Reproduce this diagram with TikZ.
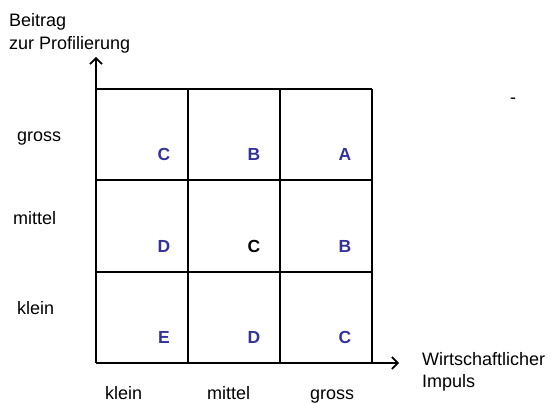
\documentclass[tikz,border=0pt]{standalone}
\usepackage{fontspec}
\setmainfont{Liberation Sans}
\usetikzlibrary{arrows.meta}
\definecolor{gradeblue}{RGB}{51,51,153}

\begin{document}
\begin{tikzpicture}[x=1pt,y=-1pt]

    % Define styles
    \tikzset{
        grid line/.style={line width=1.6pt, draw=black},
        axis arrow/.style={line width=1.6pt, -{Straight Barb[length=6pt,width=12pt]}},
        axis label/.style={font=\fontsize{18}{22.5}\selectfont, anchor=base west, align=left, inner sep=0pt},
        grade/.style={font=\fontsize{17.5}{20}\selectfont\bfseries, text=gradeblue, inner sep=0pt}
    }

    \useasboundingbox (0,0) rectangle (552,403);

    % Define coordinates for the axes
    \coordinate (origin) at (96,363);
    \coordinate (y-tip) at (96,57);
    \coordinate (x-tip) at (399,363);

    % Draw the 3x3 grid
    \foreach \x in {96,188,280,372} {
        \draw[grid line] (\x,89) -- (\x,363);
    }
    \foreach \y in {89,180,272,363} {
        \draw[grid line] (96,\y) -- (372,\y);
    }

    % Draw the axes
    \draw[axis arrow] (origin) -- (y-tip);
    \draw[axis arrow] (origin) -- (x-tip);

    % Grades in the cells
    \foreach \x/\y/\g/\name in {164/154/C/cg, 254/154/B/mg, 345/154/A/gg,
                                164/246/D/cm, 345/246/B/gm,
                                164/337/E/ck, 254/337/D/mk, 345/337/C/gk} {
        \node[grade] (grade-\name) at (\x,\y) {\g};
    }
    \node[grade, text=black] (grade-mm) at (254,246) {C};

    % Axis titles (base = baseline of the last line)
    \node[axis label] (y-title) at (9,49.5) {Beitrag\\zur Profilierung};
    \node[axis label] (x-title) at (422,388) {Wirtschaftlicher\\Impuls};

    % Row labels
    \node[axis label] (row-gross) at (17,142) {gross};
    \node[axis label] (row-mittel) at (13,225) {mittel};
    \node[axis label] (row-klein) at (17,315) {klein};

    % Column labels
    \node[axis label] (col-klein) at (105,400) {klein};
    \node[axis label] (col-mittel) at (207,400) {mittel};
    \node[axis label] (col-gross) at (310,400) {gross};

    % Stray mark
    \node[axis label] (dash) at (510,104) {-};

\end{tikzpicture}
\end{document}
